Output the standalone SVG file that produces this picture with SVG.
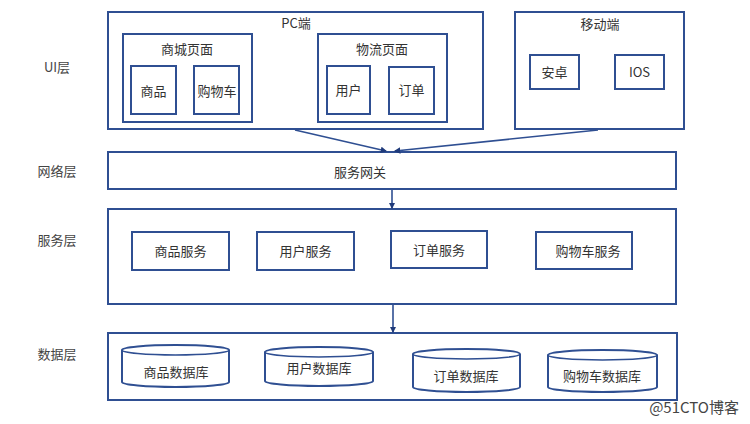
<svg xmlns="http://www.w3.org/2000/svg" width="750" height="424" viewBox="0 0 750 424">
<style>
.b{fill:#fff;stroke:#2f4f92;stroke-width:2}
.t{font-family:"Noto Sans CJK SC","Liberation Sans",sans-serif;font-size:13px;fill:#333;text-anchor:middle}
.l{font-family:"Noto Sans CJK SC","Liberation Sans",sans-serif;font-size:13px;fill:#444;text-anchor:middle}
.c{fill:none;stroke:#2f4f92;stroke-width:1.6}
</style>
<defs>
<marker id="a" viewBox="0 0 6 6" refX="5" refY="3" markerWidth="4" markerHeight="4" orient="auto">
<path d="M0,0 L6,3 L0,6 Z" fill="#1f3a7a"/>
</marker>
</defs>
<rect width="750" height="424" fill="#fff"/>
<g id="labels">
<text class="l" x="57" y="72">UI层</text>
<text class="l" x="57" y="176">网络层</text>
<text class="l" x="57" y="245">服务层</text>
<text class="l" x="57" y="359">数据层</text>
</g>
<g id="pc">
<rect class="b" x="108" y="12" width="375" height="117"/>
<text class="t" x="296" y="28">PC端</text>
</g>
<g id="mall">
<rect class="b" x="123" y="34" width="129" height="88"/>
<text class="t" x="187" y="54">商城页面</text>
</g>
<g id="goods">
<rect class="b" x="131" y="66" width="45" height="48"/>
<text class="t" x="153.5" y="96">商品</text>
</g>
<g id="cart">
<rect class="b" x="194" y="66" width="45" height="48"/>
<text class="t" x="217" y="96">购物车</text>
</g>
<g id="logistics">
<rect class="b" x="318" y="34" width="129" height="88"/>
<text class="t" x="382" y="54">物流页面</text>
</g>
<g id="user">
<rect class="b" x="327" y="66" width="43" height="48"/>
<text class="t" x="348.5" y="95">用户</text>
</g>
<g id="order">
<rect class="b" x="389" y="67" width="45" height="47"/>
<text class="t" x="411.5" y="95">订单</text>
</g>
<g id="mobile">
<rect class="b" x="515" y="12" width="169" height="117"/>
<text class="t" x="600" y="29">移动端</text>
</g>
<g id="android">
<rect class="b" x="530" y="55" width="49" height="34"/>
<text class="t" x="554.5" y="77">安卓</text>
</g>
<g id="ios">
<rect class="b" x="615" y="55" width="49" height="34"/>
<text class="t" x="639.5" y="77">IOS</text>
</g>
<g id="gateway">
<rect class="b" x="108" y="152" width="568" height="37"/>
<text class="t" x="360" y="177">服务网关</text>
</g>
<g id="services">
<rect class="b" x="108" y="209" width="568" height="95"/>
</g>
<g id="goods-svc">
<rect class="b" x="132" y="232" width="97" height="38"/>
<text class="t" x="180.5" y="256">商品服务</text>
</g>
<g id="user-svc">
<rect class="b" x="257" y="232" width="97" height="38"/>
<text class="t" x="305.5" y="256">用户服务</text>
</g>
<g id="order-svc">
<rect class="b" x="391" y="231" width="96" height="37"/>
<text class="t" x="439" y="255">订单服务</text>
</g>
<g id="cart-svc">
<rect class="b" x="536" y="232" width="96" height="37"/>
<text class="t" x="588" y="256">购物车服务</text>
</g>
<g id="data">
<rect class="b" x="108" y="333" width="569" height="67"/>
</g>
<g id="goods-db">
<path class="b" d="M122,350 A53.5,5 0 0 1 229,350 V382 A53.5,5 0 0 1 122,382 Z"/>
<path class="c" d="M122,350 A53.5,5 0 0 0 229,350"/>
<text class="t" x="176" y="377">商品数据库</text>
</g>
<g id="user-db">
<path class="b" d="M265,352 A54,5 0 0 1 373,352 V381 A54,5 0 0 1 265,381 Z"/>
<path class="c" d="M265,352 A54,5 0 0 0 373,352"/>
<text class="t" x="319" y="373">用户数据库</text>
</g>
<g id="order-db">
<path class="b" d="M413,354 A53.5,5 0 0 1 520,354 V387 A53.5,5 0 0 1 413,387 Z"/>
<path class="c" d="M413,354 A53.5,5 0 0 0 520,354"/>
<text class="t" x="466" y="381">订单数据库</text>
</g>
<g id="cart-db">
<path class="b" d="M548,355 A54.5,5 0 0 1 657,355 V387 A54.5,5 0 0 1 548,387 Z"/>
<path class="c" d="M548,355 A54.5,5 0 0 0 657,355"/>
<text class="t" x="602" y="381">购物车数据库</text>
</g>
<g id="connectors">
<line class="c" x1="295" y1="130" x2="386" y2="151" marker-end="url(#a)"/>
<line class="c" x1="598" y1="130" x2="395" y2="151" marker-end="url(#a)"/>
<line class="c" x1="392" y1="190" x2="392" y2="208" marker-end="url(#a)"/>
<line class="c" x1="393" y1="305" x2="393" y2="332" marker-end="url(#a)"/>
</g>
<text x="739" y="413" font-family="Noto Sans CJK SC,Liberation Sans,sans-serif" font-size="15" fill="#444" text-anchor="end">@51CTO博客</text>
</svg>
